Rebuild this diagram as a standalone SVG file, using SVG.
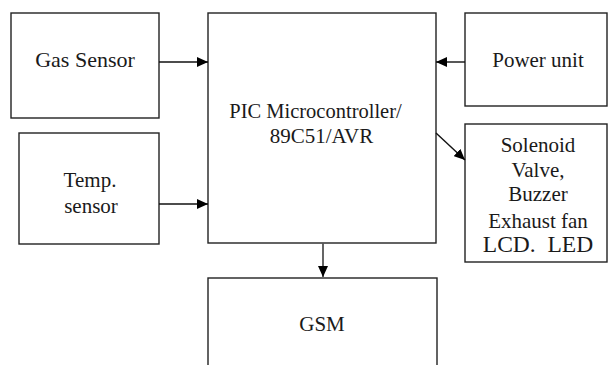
<svg xmlns="http://www.w3.org/2000/svg" width="608" height="365" viewBox="0 0 608 365">
<style>
.box{fill:#fff;stroke:#222;stroke-width:1.4}
.t{font-size:21px;fill:#1a1a1a;text-anchor:middle}
.c{stroke:#111;stroke-width:1.4;fill:none}
</style>
<defs>
<marker id="ah" markerUnits="userSpaceOnUse" markerWidth="11" markerHeight="10" refX="11" refY="5" orient="auto">
<path d="M0,0 L11,5 L0,10 z" fill="#000"/>
</marker>
</defs>
<rect width="608" height="365" fill="#fff"/>
<g font-family="'Liberation Serif', 'Times New Roman', 'DejaVu Serif', serif">
<g id="gas">
<rect class="box" x="11" y="13" width="148" height="105"/>
<text class="t" x="85" y="67" style="font-size:22px">Gas Sensor</text>
</g>
<g id="temp">
<rect class="box" x="19" y="133" width="140" height="111"/>
<text class="t" x="90" y="187">Temp.</text>
<text class="t" x="91" y="213">sensor</text>
</g>
<g id="mcu">
<rect class="box" x="208" y="13" width="228" height="230"/>
<text class="t" x="315.5" y="118" style="font-size:20.5px">PIC Microcontroller/</text>
<text class="t" x="321.5" y="143">89C51/AVR</text>
</g>
<g id="power">
<rect class="box" x="465" y="13" width="142" height="93"/>
<text class="t" x="538" y="67">Power unit</text>
</g>
<g id="outputs">
<rect class="box" x="465" y="124" width="142" height="138"/>
<text class="t" x="538" y="152">Solenoid</text>
<text class="t" x="538" y="177">Valve,</text>
<text class="t" x="538" y="201">Buzzer</text>
<text class="t" x="538" y="228">Exhaust fan</text>
<text class="t" x="538" y="252" style="font-size:23.5px" xml:space="preserve">LCD.  LED</text>
</g>
<g id="gsm">
<rect class="box" x="208" y="278" width="229" height="100"/>
<text class="t" x="322" y="331">GSM</text>
</g>
</g>
<g id="connectors">
<line class="c" x1="159" y1="62" x2="208" y2="62" marker-end="url(#ah)"/>
<line class="c" x1="159" y1="204" x2="208" y2="204" marker-end="url(#ah)"/>
<line class="c" x1="465" y1="62" x2="436" y2="62" marker-end="url(#ah)"/>
<line class="c" x1="436" y1="133" x2="465" y2="160" marker-end="url(#ah)"/>
<line class="c" x1="323" y1="243" x2="323" y2="277" marker-end="url(#ah)" style="stroke:#555;stroke-width:1.8"/>
</g>
</svg>
